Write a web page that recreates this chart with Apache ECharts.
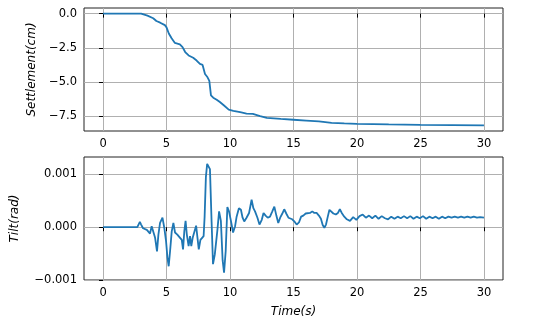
<!DOCTYPE html>
<html>
<head>
<meta charset="utf-8">
<script src="https://cdn.jsdelivr.net/npm/echarts@6/dist/echarts.min.js"></script>
<style>
  html, body { margin: 0; padding: 0; background: #fff; }
  #chart { width: 543px; height: 336px; }
</style>
</head>
<body>
<div id="chart"></div>
<script>
// settlement curve (cm) vs time (s)
const settleTime = [0, 3.0, 3.5, 3.95, 4.2, 4.5, 4.87, 5.0, 5.18, 5.4, 5.66, 6.05, 6.26, 6.47, 6.74, 7.1, 7.37, 7.63, 7.84, 8.03, 8.2, 8.37, 8.5, 8.68, 8.95, 9.2, 9.53, 9.9, 10.26, 10.8, 11.3, 11.8, 12.37, 12.9, 14.0, 15.0, 16.0, 17.0, 18.0, 19.0, 20.0, 22.5, 25.0, 27.5, 30.0]
const settleCm = [0, 0, -0.15, -0.34, -0.54, -0.66, -0.84, -1.0, -1.45, -1.8, -2.14, -2.24, -2.44, -2.8, -3.05, -3.22, -3.42, -3.67, -3.74, -4.4, -4.6, -4.9, -5.96, -6.13, -6.28, -6.45, -6.7, -7.0, -7.1, -7.19, -7.29, -7.31, -7.48, -7.6, -7.68, -7.74, -7.8, -7.86, -7.97, -8.01, -8.04, -8.08, -8.11, -8.13, -8.15]

// tilt curve, read in milliradians
const tiltTime = [0, 2.7, 2.9, 3.0, 3.15, 3.3, 3.45, 3.57, 3.7, 3.83, 3.96, 4.1, 4.25, 4.36, 4.49, 4.68, 4.83, 4.96, 5.07, 5.17, 5.28, 5.41, 5.54, 5.67, 5.85, 6.0, 6.2, 6.3, 6.4, 6.5, 6.6, 6.74, 6.85, 6.95, 7.06, 7.2, 7.33, 7.44, 7.54, 7.67, 7.8, 7.92, 8.0, 8.1, 8.2, 8.3, 8.42, 8.55, 8.66, 8.8, 9.0, 9.14, 9.28, 9.42, 9.53, 9.66, 9.79, 9.92, 10.08, 10.24, 10.4, 10.52, 10.7, 10.86, 10.99, 11.12, 11.3, 11.5, 11.7, 11.84, 11.97, 12.16, 12.32, 12.5, 12.64, 12.8, 12.97, 13.15, 13.33, 13.49, 13.65, 13.8, 13.95, 14.1, 14.27, 14.45, 14.6, 14.75, 14.9, 15.1, 15.25, 15.43, 15.6, 15.77, 15.96, 16.1, 16.3, 16.48, 16.64, 16.82, 17.0, 17.16, 17.3, 17.43, 17.56, 17.7, 17.83, 17.96, 18.14, 18.33, 18.5, 18.65, 18.8, 19.0, 19.2, 19.45, 19.7, 19.95, 20.2, 20.45, 20.7, 20.95, 21.2, 21.45, 21.7, 21.95, 22.2, 22.45, 22.7, 22.95, 23.2, 23.45, 23.7, 23.95, 24.2, 24.45, 24.7, 24.95, 25.2, 25.45, 25.7, 25.95, 26.2, 26.45, 26.7, 26.95, 27.2, 27.45, 27.7, 27.95, 28.2, 28.45, 28.7, 28.95, 29.2, 29.45, 29.7, 30.0]
const tiltMrad = [0, 0, 0.1, 0.05, -0.02, 0.0, -0.05, -0.08, -0.12, 0.02, 0.03, -0.2, -0.46, -0.14, 0.08, 0.18, -0.02, -0.26, -0.57, -0.74, -0.45, -0.08, 0.08, -0.1, -0.14, -0.17, -0.24, -0.42, -0.08, 0.12, -0.14, -0.36, -0.17, -0.36, -0.2, -0.08, 0.03, 0.04, -0.42, -0.24, -0.24, -0.17, 0.2, 0.95, 1.2, 1.23, 1.1, 0.1, -0.7, -0.52, -0.07, 0.3, 0.12, -0.63, -0.86, -0.45, 0.38, 0.3, 0.11, -0.1, 0.02, 0.2, 0.36, 0.33, 0.18, 0.11, 0.18, 0.27, 0.52, 0.36, 0.3, 0.18, 0.05, 0.14, 0.27, 0.22, 0.18, 0.2, 0.3, 0.39, 0.22, 0.08, 0.18, 0.25, 0.34, 0.25, 0.18, 0.2, 0.15, 0.1, 0.05, 0.09, 0.2, 0.22, 0.26, 0.28, 0.27, 0.3, 0.27, 0.27, 0.22, 0.16, 0.04, -0.01, 0.05, 0.2, 0.33, 0.35, 0.26, 0.24, 0.27, 0.34, 0.27, 0.2, 0.15, 0.12, 0.19, 0.14, 0.21, 0.24, 0.18, 0.22, 0.17, 0.22, 0.16, 0.21, 0.17, 0.15, 0.2, 0.16, 0.2, 0.17, 0.21, 0.17, 0.21, 0.16, 0.2, 0.17, 0.21, 0.16, 0.2, 0.17, 0.2, 0.16, 0.2, 0.17, 0.2, 0.18, 0.2, 0.18, 0.2, 0.18, 0.2, 0.18, 0.2, 0.18, 0.19, 0.18]

const timeTicks = [0, 5, 10, 15, 20, 25, 30]
const settleTicks = [-7.5, -5, -2.5, 0]
const tiltTicks = [-0.001, 0, 0.001]

const tilt = tiltMrad.map(v => v / 1000)
const minus = s => s.replace('-', '\u2212')

const chart = echarts.init(document.getElementById('chart'))

const font = { fontFamily: 'DejaVu Sans', fontSize: 11.5, color: '#000' }
const nameFont = { fontFamily: 'DejaVu Sans', fontSize: 12, fontStyle: 'italic', color: '#000' }
const gridLine = { show: true, lineStyle: { color: '#b0b0b0', width: 1 } }
const tick = { show: true, inside: false, length: 4, lineStyle: { color: '#000', width: 1 } }

const xAxisBase = (gridIndex) => ({
  type: 'value',
  gridIndex,
  min: -1.5,
  max: 31.5,
  axisLine: { show: false },
  axisTick: { ...tick, customValues: timeTicks },
  axisLabel: { ...font, margin: 7, customValues: timeTicks, formatter: v => String(v) },
  splitLine: gridLine
})

const option = {
  backgroundColor: '#fff',
  animation: false,
  grid: [
    { left: 84, top: 8, width: 419, height: 123, show: true, borderColor: '#222', borderWidth: 1, backgroundColor: 'transparent' },
    { left: 84, top: 157, width: 419, height: 123, show: true, borderColor: '#222', borderWidth: 1, backgroundColor: 'transparent' }
  ],
  xAxis: [
    xAxisBase(0),
    {
      ...xAxisBase(1),
      name: 'Time(s)',
      nameLocation: 'middle',
      nameGap: 26,
      nameTextStyle: nameFont
    }
  ],
  yAxis: [
    {
      type: 'value',
      gridIndex: 0,
      min: -8.56,
      max: 0.41,
      name: 'Settlement(cm)',
      nameLocation: 'middle',
      nameGap: 46,
      nameTextStyle: nameFont,
      axisLine: { show: false },
      axisTick: { ...tick, customValues: settleTicks },
      axisLabel: { ...font, margin: 7, customValues: settleTicks, formatter: v => minus(v.toFixed(1)) },
      splitLine: gridLine
    },
    {
      type: 'value',
      gridIndex: 1,
      min: -0.001,
      max: 0.00133,
      name: 'Tilt(rad)',
      nameLocation: 'middle',
      nameGap: 63,
      nameTextStyle: nameFont,
      axisLine: { show: false },
      axisTick: { ...tick, customValues: tiltTicks },
      axisLabel: { ...font, margin: 7, customValues: tiltTicks, formatter: v => minus(v.toFixed(3)) },
      splitLine: gridLine
    }
  ],
  series: [
    {
      type: 'line',
      xAxisIndex: 0,
      yAxisIndex: 0,
      showSymbol: false,
      lineStyle: { color: '#1f77b4', width: 1.8 },
      data: settleTime.map((t, i) => [t, settleCm[i]])
    },
    {
      type: 'line',
      xAxisIndex: 1,
      yAxisIndex: 1,
      showSymbol: false,
      lineStyle: { color: '#1f77b4', width: 1.8 },
      data: tiltTime.map((t, i) => [t, tilt[i]])
    }
  ]
}
chart.setOption(option)
</script>
</body>
</html>
